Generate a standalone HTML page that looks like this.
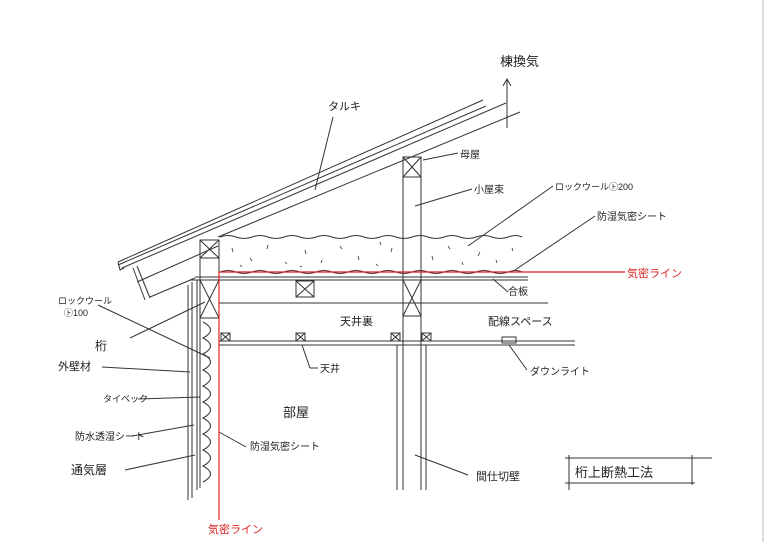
<!DOCTYPE html>
<html><head><meta charset="utf-8"><style>
html,body{margin:0;padding:0;background:#fff}
svg{display:block}
text{font-family:"Liberation Sans","Noto Sans CJK JP",sans-serif;fill:#222}
</style></head><body>
<svg width="768" height="542" viewBox="0 0 768 542" xmlns="http://www.w3.org/2000/svg">
<rect width="768" height="542" fill="#fff"/>
<line x1="763" y1="0" x2="763" y2="542" stroke="#ddd" stroke-width="2"/>
<g stroke="#333" stroke-width="1" fill="none">
<line x1="118" y1="262" x2="483" y2="100"/>
<line x1="118" y1="265" x2="486" y2="106"/>
<line x1="122" y1="268" x2="506" y2="103"/>
<line x1="218" y1="237" x2="520" y2="112"/>
<line x1="137" y1="282" x2="218" y2="246"/>
<line x1="150" y1="297" x2="195" y2="278"/>
<polyline points="118,262 120,270 124,268"/>
<line x1="133" y1="268" x2="145" y2="300"/>
<line x1="137" y1="266" x2="150" y2="298"/>
<line x1="507" y1="80" x2="507" y2="128"/>
<polyline points="503,86 507,79 511,86"/>
<line x1="188" y1="285" x2="188" y2="500"/>
<line x1="192" y1="282" x2="192" y2="498"/>
<line x1="197" y1="280" x2="197" y2="490"/>
<line x1="200" y1="240" x2="200" y2="488"/>
<line x1="219" y1="240" x2="219" y2="500"/>
<rect x="200" y="240" width="19" height="18"/>
<path d="M200 240 L219 258 M219 240 L200 258"/>
<rect x="200" y="280" width="19" height="38"/>
<path d="M200 280 L219 318 M219 280 L200 318"/>
<line x1="190" y1="280" x2="220" y2="280"/>
<path d="M203 322 Q218 330 203 338 Q218 346 203 354 Q218 362 203 370 Q218 378 203 386 Q218 394 203 402 Q218 410 203 418 Q218 426 203 434 Q218 442 203 450 Q218 458 203 466 Q218 474 203 482"/>
<path d="M220 237 q8 -3 16 0 t16 0 t16 0 t16 0 t16 0 t16 0 t16 0 t16 0 t16 0 t16 0 t16 0 t16 0 t16 0 t16 0 t16 0 t16 0 t16 0 t16 0 t14 0"/>
<path d="M220 272 q8 -3 16 0 t16 0 t16 0 t16 0 t16 0 t16 0 t16 0 t16 0 t16 0 t16 0 t16 0 t16 0 t16 0 t16 0 t16 0 t16 0 t16 0 t16 0 t14 0"/>
<path d="M232 248 l1 4 M250 258 l2 3 M268 245 l-1 4 M285 262 l2 2 M305 250 l1 4 M322 260 l-1 3 M340 246 l2 3 M358 256 l1 4 M376 264 l2 2 M392 248 l-1 4 M432 256 l1 4 M448 246 l2 3 M462 262 l1 3 M480 252 l-2 4 M496 260 l1 3 M512 248 l1 3 M240 265 l2 2 M300 266 l2 1 M380 242 l1 3" stroke-width="0.8"/>
<line x1="195" y1="277" x2="528" y2="277"/>
<line x1="195" y1="280" x2="528" y2="280"/>
<line x1="219" y1="303" x2="548" y2="303"/>
<line x1="219" y1="341" x2="575" y2="341"/>
<line x1="219" y1="345" x2="575" y2="345"/>
<line x1="403" y1="157" x2="403" y2="490"/>
<line x1="421" y1="157" x2="421" y2="490"/>
<rect x="403" y="157" width="18" height="20"/>
<path d="M403 157 L421 177 M421 157 L403 177"/>
<rect x="403" y="280" width="18" height="36"/>
<path d="M403 280 L421 316 M421 280 L403 316"/>
<line x1="397" y1="345" x2="397" y2="490"/>
<line x1="426" y1="345" x2="426" y2="490"/>
<rect x="296" y="281" width="18" height="16"/>
<path d="M296 281 L314 297 M314 281 L296 297"/>
<rect x="221" y="333" width="9" height="8"/><path d="M221 333 L230 341 M230 333 L221 341"/>
<rect x="296" y="333" width="9" height="8"/><path d="M296 333 L305 341 M305 333 L296 341"/>
<rect x="391" y="333" width="9" height="8"/><path d="M391 333 L400 341 M400 333 L391 341"/>
<rect x="422" y="333" width="9" height="8"/><path d="M422 333 L431 341 M431 333 L422 341"/>
<rect x="502" y="337" width="14" height="6"/>
<line x1="315" y1="190" x2="333" y2="117"/>
<line x1="423" y1="160" x2="458" y2="153"/>
<line x1="415" y1="206" x2="472" y2="189"/>
<line x1="468" y1="246" x2="553" y2="186"/>
<line x1="515" y1="270" x2="595" y2="216"/>
<line x1="493" y1="279" x2="508" y2="292"/>
<line x1="302" y1="345" x2="310" y2="368"/><line x1="310" y1="368" x2="318" y2="368"/>
<line x1="509" y1="345" x2="527" y2="370"/>
<line x1="98" y1="305" x2="210" y2="358"/>
<line x1="130" y1="338" x2="205" y2="302"/>
<line x1="102" y1="367" x2="190" y2="372"/>
<line x1="138" y1="399" x2="200" y2="397"/>
<line x1="132" y1="436" x2="194" y2="425"/>
<line x1="125" y1="470" x2="195" y2="455"/>
<line x1="219" y1="432" x2="246" y2="447"/>
<line x1="415" y1="455" x2="468" y2="475"/>
<line x1="565" y1="458" x2="712" y2="458"/>
<line x1="565" y1="483" x2="695" y2="483"/>
<line x1="569" y1="455" x2="569" y2="490"/>
<line x1="692" y1="455" x2="692" y2="485"/>
</g>
<g stroke="#d22" stroke-width="1.2">
<line x1="219" y1="272" x2="625" y2="272"/>
<line x1="219" y1="272" x2="219" y2="520"/>
</g>
<g font-size="11">
<text x="500" y="66" font-size="13">棟換気</text>
<text x="328" y="110">タルキ</text>
<text x="460" y="158" font-size="10">母屋</text>
<text x="474" y="193" font-size="10">小屋束</text>
<text x="555" y="190" font-size="9">ロックウール㋣200</text>
<text x="597" y="220" font-size="10">防湿気密シート</text>
<text x="627" y="277" font-size="11" style="fill:#d22">気密ライン</text>
<text x="508" y="295" font-size="10">合板</text>
<text x="340" y="325">天井裏</text>
<text x="488" y="325">配線スペース</text>
<text x="320" y="372" font-size="10">天井</text>
<text x="530" y="375" font-size="10">ダウンライト</text>
<text x="283" y="417" font-size="13">部屋</text>
<text x="476" y="480" font-size="11">間仕切壁</text>
<text x="575" y="477" font-size="13">桁上断熱工法</text>
<text x="58" y="304" font-size="9">ロックウール</text>
<text x="64" y="316" font-size="9">㋣100</text>
<text x="95" y="350" font-size="12">桁</text>
<text x="58" y="370">外壁材</text>
<text x="103" y="402" font-size="9">タイベック</text>
<text x="75" y="440" font-size="10">防水透湿シート</text>
<text x="71" y="474" font-size="12">通気層</text>
<text x="250" y="450" font-size="10">防湿気密シート</text>
<text x="208" y="533" style="fill:#d22">気密ライン</text>
</g>
</svg>
</body></html>
